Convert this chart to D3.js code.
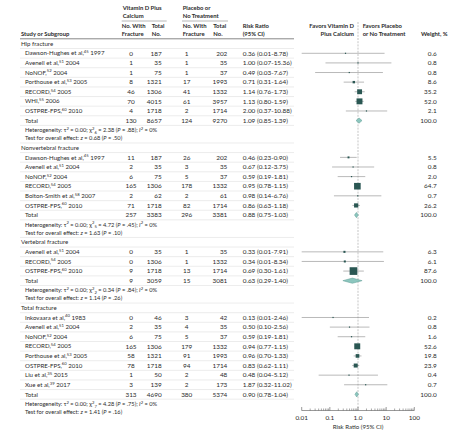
<!DOCTYPE html>
<html><head><meta charset="utf-8">
<script src="https://cdn.jsdelivr.net/npm/d3@7"></script>
<style>
body{margin:0;background:#fff;}
svg text{font-family:Lato,"Open Sans",sans-serif;fill:#2b2b2b;}
</style></head>
<body><svg id="c" width="467" height="434"></svg>
<script>
// ---------- DATA ----------
const groups = ["Hip fracture","Nonvertebral fracture","Vertebral fracture","Total fracture"];
const studyNames = [
 ["Dawson-Hughes et al,|45| 1997","Avenell et al,|51| 2004","NoNOF,|52| 2004","Porthouse et al,|53| 2005","RECORD,|54| 2005","WHI,|55| 2006","OSTPRE-FPS,|60| 2010"],
 ["Dawson-Hughes et al,|45| 1997","Avenell et al,|51| 2004","NoNOF,|52| 2004","RECORD,|54| 2005","Bolton-Smith et al,|58| 2007","OSTPRE-FPS,|60| 2010"],
 ["Avenell et al,|51| 2004","RECORD,|54| 2005","OSTPRE-FPS,|60| 2010"],
 ["Inkovaara et al,|40| 1983","Avenell et al,|51| 2004","NoNOF,|52| 2004","RECORD,|54| 2005","Porthouse et al,|53| 2005","OSTPRE-FPS,|60| 2010","Liu et al,|35| 2015","Xue et al,|39| 2017"]
];
const treatEvents = [[0,1,1,8,46,70,4],[11,2,6,165,2,71],[0,0,9],[0,2,6,165,58,78,1,3]];
const treatTotal  = [[187,35,75,1321,1306,4015,1718],[187,35,75,1306,62,1718],[35,1306,1718],[46,35,75,1306,1321,1718,50,139]];
const ctrlEvents  = [[1,1,1,17,41,61,2],[26,3,5,178,2,82],[1,1,13],[3,4,5,179,91,94,2,2]];
const ctrlTotal   = [[202,35,37,1993,1332,3957,1714],[202,35,37,1332,61,1714],[35,1332,1714],[42,35,37,1332,1993,1714,48,173]];
const rr   = [[0.36,1.00,0.49,0.71,1.14,1.13,2.00],[0.46,0.67,0.59,0.95,0.98,0.86],[0.33,0.34,0.69],[0.13,0.50,0.59,0.94,0.96,0.83,0.48,1.87]];
const rrLo = [[0.01,0.07,0.03,0.31,0.76,0.80,0.37],[0.23,0.12,0.19,0.78,0.14,0.63],[0.01,0.01,0.30],[0.01,0.10,0.19,0.77,0.70,0.62,0.04,0.32]];
const rrHi = [[8.78,15.36,7.67,1.64,1.73,1.59,10.88],[0.90,3.75,1.81,1.15,6.76,1.18],[7.91,8.34,1.61],[2.46,2.56,1.81,1.15,1.33,1.11,5.12,11.02]];
const weights = [[0.6,0.8,0.8,8.6,35.2,52.0,2.1],[5.5,0.8,2.0,64.7,0.7,26.2],[6.3,6.1,87.6],[0.2,0.8,1.6,52.6,19.8,23.9,0.4,0.7]];
const totTreatEvents = [130,257,9,313];
const totTreatTotal  = [8657,3383,3059,4690];
const totCtrlEvents  = [124,296,15,380];
const totCtrlTotal   = [9270,3381,3081,5374];
const totRR   = [1.09,0.88,0.63,0.90];
const totLo   = [0.85,0.75,0.29,0.78];
const totHi   = [1.39,1.03,1.40,1.04];
const hetTau  = ["0.00","0.00","0.00","0.00"];
const hetDf   = [6,5,2,7];
const hetChi  = ["2.38","4.72","0.34","4.28"];
const hetP    = [".88",".45",".84",".75"];
const hetI2   = ["0%","0%","0%","0%"];
const zVal    = ["0.68","1.63","1.14","1.41"];
const zP      = [".50",".10",".26",".16"];
const axisTicks = [0.01,0.1,1,10,100];
const axisTickLabels = ["0.01","0.1","1.0","10","100"];

// ---------- LAYOUT ----------
const svg = d3.select("#c");
const FS = 6.1, NFS = 6.4, HFS = 5.9, HETFS = 5.7, SUP = 4.2;
const fmtRR = (r,l,h)=> `${r.toFixed(2)} (${l.toFixed(2)}-${h.toFixed(2)})`;

const rows = [];
let u = 0;
groups.forEach((g,gi)=>{
  rows.push({type:"group",u,g,gi}); u+=1;
  studyNames[gi].forEach((s,si)=>{ rows.push({type:"study",u,gi,si}); u+=1; });
  rows.push({type:"total",u,gi}); u+=1;
  rows.push({type:"het",u,gi}); u+=0.83;
  rows.push({type:"test",u,gi}); u+=1;
});
const y = d3.scaleLinear().domain([0,1]).range([43.7,43.7+9.61]);
const x = d3.scaleLog().domain([0.01,100]).range([301.7,414.3]);
const sizeS = d3.scaleSqrt().domain([0,100]).range([0,8.2]);

const colC1 = 131, colC2 = 161.7, colC3 = 186.7, colC4 = 227.3, colRR = 242.7, colW = 436.7;
const lineL = 20, lineR = 294;

function txt(xx,yy,s,anchor,opts={}){
  const t = svg.append("text").attr("x",xx).attr("y",yy).attr("dy","0.35em")
    .attr("font-size",opts.fs||FS).attr("text-anchor",anchor||"start");
  if(opts.bold) t.attr("font-weight",700).attr("font-size",opts.fs||HFS);
  t.text(s);
  return t;
}
function studyLabel(xx,yy,s){
  const parts = s.split("|");
  const t = svg.append("text").attr("x",xx).attr("y",yy).attr("dy","0.35em").attr("font-size",FS);
  t.append("tspan").text(parts[0]);
  t.append("tspan").attr("font-size",SUP).attr("dy",-2.2).text(parts[1]);
  t.append("tspan").attr("dy",2.2).text(" " + parts[2].trim());
}

// ---------- HEADER ----------
txt(122.7,8,"Vitamin D Plus","start",{bold:true});
txt(122.7,16.3,"Calcium","start",{bold:true});
txt(182.7,8,"Placebo or","start",{bold:true});
txt(182.7,16.3,"No Treatment","start",{bold:true});
svg.append("line").attr("x1",121.7).attr("x2",166.7).attr("y1",21).attr("y2",21).attr("stroke","#888").attr("stroke-width",0.6);
svg.append("line").attr("x1",182).attr("x2",228).attr("y1",21).attr("y2",21).attr("stroke","#888").attr("stroke-width",0.6);
txt(121.7,26,"No. With","start",{bold:true}); txt(121.7,34.3,"Fracture","start",{bold:true});
txt(151.7,26,"Total","start",{bold:true}); txt(151.7,34.3,"No.","start",{bold:true});
txt(182.7,26,"No. With","start",{bold:true}); txt(182.7,34.3,"Fracture","start",{bold:true});
txt(213.3,26,"Total","start",{bold:true}); txt(213.3,34.3,"No.","start",{bold:true});
txt(21,34.3,"Study or Subgroup","start",{bold:true});
txt(242.7,26,"Risk Ratio","start",{bold:true}); txt(242.7,34.3,"(95% CI)","start",{bold:true});
txt(354,26,"Favors Vitamin D","end",{bold:true}); txt(354,34.3,"Plus Calcium","end",{bold:true});
txt(362.7,26,"Favors Placebo","start",{bold:true}); txt(362.7,34.3,"or No Treatment","start",{bold:true});
txt(421,34.3,"Weight, %","start",{bold:true});
svg.append("line").attr("x1",lineL).attr("x2",lineR).attr("y1",38.8).attr("y2",38.8).attr("stroke","#555").attr("stroke-width",0.7);

// reference line at 1
svg.append("line").attr("x1",x(1)).attr("x2",x(1)).attr("y1",22).attr("y2",410)
  .attr("stroke","#a0a0a0").attr("stroke-width",0.6).attr("stroke-dasharray","2,1.2");

// ---------- ROWS ----------
rows.forEach(r=>{
  const yy = y(r.u);
  const sep = (yy2)=> svg.append("line").attr("x1",lineL).attr("x2",lineR).attr("y1",yy2).attr("y2",yy2).attr("stroke","#d8d8d8").attr("stroke-width",0.5);
  const gi = r.gi;
  const num = {fs:NFS};
  if(r.type==="group"){
    txt(21,yy,groups[gi]);
    sep(yy+4.8);
  } else if(r.type==="study"){
    const si = r.si;
    studyLabel(25,yy,studyNames[gi][si]);
    txt(colC1,yy,treatEvents[gi][si],"middle",num);
    txt(colC2,yy,treatTotal[gi][si],"end",num);
    txt(colC3,yy,ctrlEvents[gi][si],"middle",num);
    txt(colC4,yy,ctrlTotal[gi][si],"end",num);
    txt(colRR,yy,fmtRR(rr[gi][si],rrLo[gi][si],rrHi[gi][si]),"start",num);
    txt(colW,yy,weights[gi][si].toFixed(1),"end",num);
    sep(yy+4.8);
    svg.append("line").attr("x1",x(rrLo[gi][si])).attr("x2",x(rrHi[gi][si])).attr("y1",yy).attr("y2",yy)
      .attr("stroke","#8a8a8a").attr("stroke-width",0.6);
    const s = Math.max(1.2,sizeS(weights[gi][si]));
    svg.append("rect").attr("x",x(rr[gi][si])-s/2).attr("y",yy-s/2).attr("width",s).attr("height",s)
      .attr("fill","#2a5753");
  } else if(r.type==="total"){
    txt(25,yy,"Total");
    txt(colC1,yy,totTreatEvents[gi],"middle",num);
    txt(colC2,yy,totTreatTotal[gi],"end",num);
    txt(colC3,yy,totCtrlEvents[gi],"middle",num);
    txt(colC4,yy,totCtrlTotal[gi],"end",num);
    txt(colRR,yy,fmtRR(totRR[gi],totLo[gi],totHi[gi]),"start",num);
    txt(colW,yy,"100.0","end",num);
    sep(yy+4.8);
    const h = 2.6;
    const pts = [[x(totLo[gi]),yy],[x(totRR[gi]),yy-h],[x(totHi[gi]),yy],[x(totRR[gi]),yy+h]];
    svg.append("polygon").attr("points",pts.map(p=>p.join(",")).join(" "))
      .attr("fill","#8cc6be").attr("stroke","#5e9c94").attr("stroke-width",0.5);
  } else if(r.type==="het"){
    const t = svg.append("text").attr("x",25).attr("y",yy).attr("dy","0.35em").attr("font-size",HETFS);
    t.append("tspan").text("Heterogeneity: τ");
    t.append("tspan").attr("font-size",SUP).attr("dy",-2.2).text("2");
    t.append("tspan").attr("dy",2.2).text(` = ${hetTau[gi]}; χ`);
    t.append("tspan").attr("font-size",SUP).attr("dy",-2.2).text("2");
    t.append("tspan").attr("font-size",SUP).attr("dy",4).text(hetDf[gi]);
    t.append("tspan").attr("dy",-1.8).text(` = ${hetChi[gi]} (`);
    t.append("tspan").attr("font-style","italic").text("P");
    t.append("tspan").text(` = ${hetP[gi]}); `);
    t.append("tspan").attr("font-style","italic").text("I");
    t.append("tspan").attr("font-size",SUP).attr("dy",-2.2).text("2");
    t.append("tspan").attr("dy",2.2).text(` = ${hetI2[gi]}`);
  } else if(r.type==="test"){
    const t = svg.append("text").attr("x",25).attr("y",yy).attr("dy","0.35em").attr("font-size",HETFS);
    t.append("tspan").text("Test for overall effect: ");
    t.append("tspan").attr("font-style","italic").text("z");
    t.append("tspan").text(` = ${zVal[gi]} (`);
    t.append("tspan").attr("font-style","italic").text("P");
    t.append("tspan").text(` = ${zP[gi]})`);
    if(gi<groups.length-1) sep(yy+4.8);
  }
});

// ---------- AXIS ----------
const minor = [];
for(let e=-2;e<2;e++) for(let m=2;m<=9;m++) minor.push(m*Math.pow(10,e));
const axisY = 410.5;
const ax = svg.append("g").attr("transform",`translate(0,${axisY})`);
ax.append("line").attr("x1",x(0.01)).attr("x2",x(100)).attr("stroke","#555").attr("stroke-width",0.6);
ax.selectAll("line.mi").data(minor).join("line").attr("class","mi")
  .attr("x1",d=>x(d)).attr("x2",d=>x(d)).attr("y1",0).attr("y2",-2).attr("stroke","#555").attr("stroke-width",0.5);
ax.selectAll("line.ma").data(axisTicks).join("line").attr("class","ma")
  .attr("x1",d=>x(d)).attr("x2",d=>x(d)).attr("y1",0).attr("y2",-3.5).attr("stroke","#555").attr("stroke-width",0.6);
ax.selectAll("text").data(axisTicks).join("text")
  .attr("x",d=>x(d)).attr("y",7).attr("dy","0.35em").attr("text-anchor","middle").attr("font-size",NFS)
  .text((d,i)=>axisTickLabels[i]);
txt(x(1),426.7,"Risk Ratio (95% CI)","middle");
</script></body></html>
